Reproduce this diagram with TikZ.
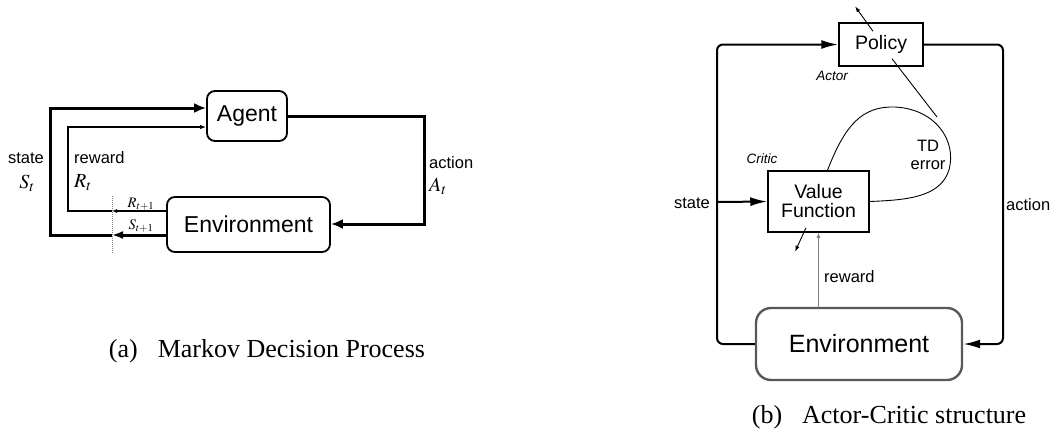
\documentclass[tikz,border=0pt]{standalone}
\usepackage{mathptmx}
\usepackage{fontspec}
\setmainfont{Liberation Serif}
\setsansfont{Liberation Sans}
\usetikzlibrary{arrows.meta,positioning,calc}

\begin{document}
\begin{tikzpicture}[
    x=1pt, y=-1pt,
    mdpbox/.style={draw, line width=1.8pt, rounded corners=8pt, inner sep=0pt, align=center, font=\sffamily\fontsize{23}{26}\selectfont},
    acbox/.style={draw, line width=1.5pt, inner sep=0pt, align=center, font=\sffamily\fontsize{19.5}{21}\selectfont},
    lbl/.style={inner sep=0pt, font=\sffamily\fontsize{16.5}{19}\selectfont},
    sym/.style={inner sep=0pt, font=\fontsize{20}{22}\selectfont},
    small/.style={inner sep=0pt, font=\fontsize{14.5}{16}\selectfont},
    role/.style={inner sep=0pt, font=\sffamily\itshape\fontsize{13.5}{15}\selectfont},
    caption/.style={inner sep=0pt, anchor=base, font=\fontsize{26}{28}\selectfont},
    heavy/.style={line width=3pt, -{Latex[length=12pt,width=10pt]}},
    light/.style={line width=1.2pt, -{Latex[length=6pt,width=4.5pt]}},
    loop/.style={line width=2pt, rounded corners=6pt},
    tipbig/.style={-{Latex[length=17pt,width=9pt]}},
    thinarrow/.style={line width=0.9pt, -{Latex[length=6pt,width=4pt]}}
]
    \useasboundingbox (0,0) rectangle (1055,429);

    % Markov decision process
    \node[mdpbox, minimum width=80pt, minimum height=50pt] (agent) at (247,116) {Agent};
    \node[mdpbox, minimum width=163pt, minimum height=55pt] (envA) at (248.5,224.5) {Environment};

    \coordinate (cutR) at (112,211);
    \coordinate (cutS) at (112,235);
    \coordinate (sL) at (50,108);
    \coordinate (rL) at (68,127);
    \coordinate (aR) at (424,224);

    \draw[densely dotted, gray, line width=1pt] (112,196) -- (112,253);

    \draw[heavy, -{Latex[length=11pt,width=8pt]}] (envA.west |- cutS) -- (cutS);
    \draw[light, -{Latex[length=5pt,width=4pt]}] (envA.west |- cutR) -- (cutR);
    \draw[heavy] (cutS) -| (sL) -- (agent.west |- sL);
    \draw[light] (cutR) -| (rL) -- (agent.west |- rL);
    \draw[heavy] (agent.east) -| (aR) -- (envA.east |- aR);

    \node[lbl] (stateA) at (26,158) {state};
    \node[sym] at (27,183) {$S_t$};
    \node[lbl, anchor=west] (rewardA) at (74,158) {reward};
    \node[sym, anchor=west] at (74,183) {$R_t$};
    \node[small] at (141,204) {$R_{t+1}$};
    \node[small] at (141,226) {$S_{t+1}$};
    \node[lbl, anchor=west] (actionA) at (429,163) {action};
    \node[sym, anchor=west] at (429,186) {$A_t$};

    \node[caption] (capA) at (267,357) {(a)\hspace{20pt}Markov Decision Process};

    % Actor-critic
    \node[acbox, minimum width=84pt, minimum height=43pt] (policy) at (881,44.5) {Policy};
    \node[acbox, minimum width=101pt, minimum height=61pt] (vf) at (818.5,201.5) {Value\\[-2pt]Function};
    \node[mdpbox, draw=black!65, line width=2.4pt, rounded corners=15pt, font=\sffamily\fontsize{25}{28}\selectfont,
          minimum width=206pt, minimum height=72pt] (envB) at (859,344) {Environment};

    \node[role] at (832,76) {Actor};
    \node[role] at (762,159) {Critic};

    \coordinate (stateB) at (717,202);
    \coordinate (actR) at (1003,200);
    \coordinate (tdhit) at (937,117);

    \draw[loop, tipbig] (envB.west) -| (stateB) |- (policy.west);
    \draw[loop, tipbig] (stateB) -- (vf.west);
    \draw[loop, tipbig] (policy.east) -| (actR) |- (envB.east);
    \draw[line width=1pt, gray, -{Latex[length=5pt,width=4pt]}] (envB.north -| vf.south) -- (vf.south);

    % TD error loop
    \draw[line width=0.9pt] ($(vf.north)+(9,0)$) .. controls (845,125) and (862,106) .. (895,107)
        .. controls (935,109) and (957,140) .. (949,170)
        .. controls (940,198) and (905,200) .. (vf.east);
    \draw[line width=0.9pt] ($(policy.south)+(11,-8)$) -- (tdhit);
    \draw[thinarrow] ($(policy.north)+(-8,9)$) -- ++(-18,-25);
    \draw[thinarrow] ($(vf.south)+(-12.5,-5)$) -- ++(-11,24);

    \node[lbl, align=center] (td) at (928,155) {TD\\[-1pt]error};
    \node[lbl] at (692,203) {state};
    \node[lbl, anchor=west] at (1006,205) {action};
    \node[lbl, anchor=west] at (824,277) {reward};

    \node[caption] (capB) at (889,423) {(b)\hspace{20pt}Actor-Critic structure};
\end{tikzpicture}
\end{document}
